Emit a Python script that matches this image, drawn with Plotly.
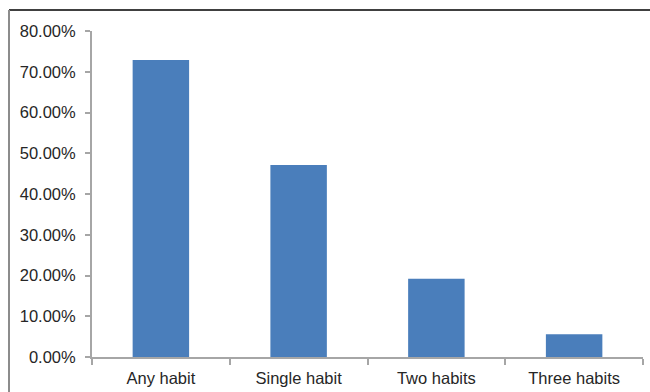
import plotly.graph_objects as go

categories = ["Any habit", "Single habit", "Two habits", "Three habits"]
shares = [0.729, 0.471, 0.192, 0.056]
y_ticks = [0.0, 0.1, 0.2, 0.3, 0.4, 0.5, 0.6, 0.7, 0.8]

fig = go.Figure(
    go.Bar(
        x=categories,
        y=shares,
        marker=dict(color="#4a7ebb", line=dict(width=0)),
        width=0.41,
    )
)

axis_font = dict(family="Liberation Sans, Arial, sans-serif", size=16.5, color="#262626")

fig.update_layout(
    width=650,
    height=392,
    margin=dict(l=92, r=7, t=31, b=35),
    paper_bgcolor="white",
    plot_bgcolor="white",
    showlegend=False,
    font=axis_font,
    xaxis=dict(
        type="category",
        automargin=False,
        showline=True,
        linecolor="#a6a6a6",
        linewidth=2,
        ticks="outside",
        tickson="boundaries",
        ticklen=6,
        tickwidth=1.5,
        tickcolor="#a6a6a6",
        showgrid=False,
        ticklabelstandoff=5,
        tickfont=axis_font,
    ),
    yaxis=dict(
        range=[0, 0.8],
        automargin=False,
        tickvals=y_ticks,
        tickformat=".2%",
        showline=True,
        linecolor="#a6a6a6",
        linewidth=2,
        ticks="outside",
        ticklen=5,
        tickwidth=1.5,
        tickcolor="#a6a6a6",
        showgrid=False,
        zeroline=False,
        ticklabelstandoff=6,
        tickfont=axis_font,
    ),
    shapes=[
        # chart frame: top and left edges
        dict(type="line", xref="paper", yref="paper",
             x0=(9 - 92) / 551, x1=1.02, y0=(357 - 10) / 326, y1=(357 - 10) / 326,
             line=dict(color="#404040", width=2)),
        dict(type="line", xref="paper", yref="paper",
             x0=(9 - 92) / 551, x1=(9 - 92) / 551, y0=(357 - 10) / 326, y1=-0.12,
             line=dict(color="#8c8c8c", width=2)),
    ],
)

fig.write_html("out.html")
